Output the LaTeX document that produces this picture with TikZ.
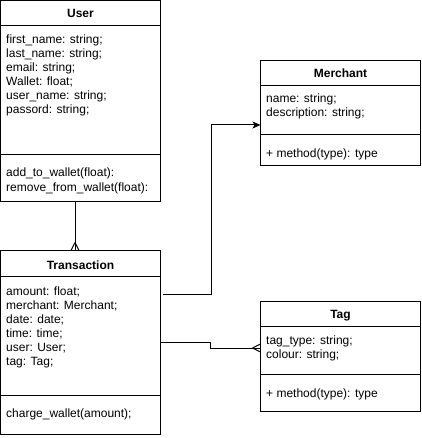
\documentclass[tikz,border=0pt]{standalone}
\usepackage{fontspec}
\setmainfont{Liberation Sans}
\usetikzlibrary{arrows.meta,calc}
\begin{document}
\begin{tikzpicture}[x=1pt,y=-1pt,
  classbox/.style={draw=black,line width=1pt,fill=white,anchor=north west,inner sep=0pt,outer sep=0pt},
  ctitle/.style={anchor=base,inner sep=0pt,font=\fontsize{12}{14}\selectfont\bfseries},
  attr/.style={anchor=base west,inner sep=0pt,font=\fontsize{12}{14}\selectfont},
  divline/.style={draw=black,line width=1pt},
  conn/.style={draw=black,line width=1pt},
  foot/.style={draw=black,line width=1pt},
  arrowhead/.style={-{Stealth[length=8pt,width=7pt,inset=2pt]}}
]
\useasboundingbox (0,0) rectangle (421,438);

% ---------- User ----------
\node[classbox,minimum width=160pt,minimum height=201pt] (user) at (0.5,0.5) {};
\draw[divline] (0.5,26) coordinate (uh1) -- (160.5,26) coordinate (uh2);
\draw[divline] (0.5,155) coordinate (ud1) -- (160.5,155) coordinate (ud2);
\node[ctitle] (usert) at (80.5,18) {User};
\node[attr] (u1) at (6,44) {first\_name: string;};
\node[attr] (u2) at (6,58) {last\_name: string;};
\node[attr] (u3) at (6,72) {email: string;};
\node[attr] (u4) at (6,86) {Wallet: float;};
\node[attr] (u5) at (6,100) {user\_name: string;};
\node[attr] (u6) at (6,114) {passord: string;};
\node[attr] (um1) at (6,177) {add\_to\_wallet(float):};
\node[attr] (um2) at (6,191) {remove\_from\_wallet(float):};

% ---------- Transaction ----------
\node[classbox,minimum width=160pt,minimum height=184pt] (trans) at (0.5,250.5) {};
\draw[divline] (0.5,276) coordinate (th1) -- (160.5,276) coordinate (th2);
\draw[divline] (0.5,395) coordinate (td1) -- (160.5,395) coordinate (td2);
\node[ctitle] (transt) at (80.5,269) {Transaction};
\node[attr] (t1) at (6,295) {amount: float;};
\node[attr] (t2) at (6,309) {merchant: Merchant;};
\node[attr] (t3) at (6,323) {date: date;};
\node[attr] (t4) at (6,337) {time: time;};
\node[attr] (t5) at (6,351) {user: User;};
\node[attr] (t6) at (6,365) {tag: Tag;};
\node[attr] (tm1) at (6,417) {charge\_wallet(amount);};

% ---------- Merchant ----------
\node[classbox,minimum width=160pt,minimum height=105pt] (merch) at (260.5,60.5) {};
\draw[divline] (260.5,86) coordinate (mh1) -- (420.5,86) coordinate (mh2);
\draw[divline] (260.5,135) coordinate (md1) -- (420.5,135) coordinate (md2);
\node[ctitle] (mercht) at (340.5,78) {Merchant};
\node[attr] (m1) at (266,103) {name: string;};
\node[attr] (m2) at (266,117) {description: string;};
\node[attr] (mm1) at (266,158) {+ method(type): type};

% ---------- Tag ----------
\node[classbox,minimum width=160pt,minimum height=110pt] (tag) at (260.5,301.5) {};
\draw[divline] (260.5,326) coordinate (gh1) -- (420.5,326) coordinate (gh2);
\draw[divline] (260.5,374) coordinate (gd1) -- (420.5,374) coordinate (gd2);
\node[ctitle] (tagt) at (340.5,318) {Tag};
\node[attr] (g1) at (266,344) {tag\_type: string;};
\node[attr] (g2) at (266,358) {colour: string;};
\node[attr] (gm1) at (266,397) {+ method(type): type};

% ---------- Connectors ----------
% User -> Transaction (many)
\coordinate (ua) at ([xshift=74.5pt]user.south west);
\coordinate (tb) at ([xshift=74.5pt]trans.north west);
\draw[conn] (ua) -- (tb);
\draw[foot] ([yshift=8pt]tb) -- ([xshift=-4pt]tb) ([yshift=8pt]tb) -- ([xshift=4pt]tb);

% Transaction -> Merchant
\coordinate (ta) at ([xshift=2pt,yshift=-43.5pt]trans.north east);
\coordinate (ma) at ([yshift=-64.5pt]merch.north west);
\draw[conn,arrowhead] (ta) -| ($(ta)!0.5!(ma)$) |- (ma);

% Transaction -> Tag (many)
\coordinate (tc) at ([yshift=-91.5pt]trans.north east);
\coordinate (ga) at ([yshift=-46.5pt]tag.north west);
\draw[conn] (tc) -| ($(tc)!0.5!(ga)$) |- (ga);
\draw[foot] ([xshift=-8pt]ga) -- ([yshift=4pt]ga) ([xshift=-8pt]ga) -- ([yshift=-4pt]ga);
\end{tikzpicture}
\end{document}
